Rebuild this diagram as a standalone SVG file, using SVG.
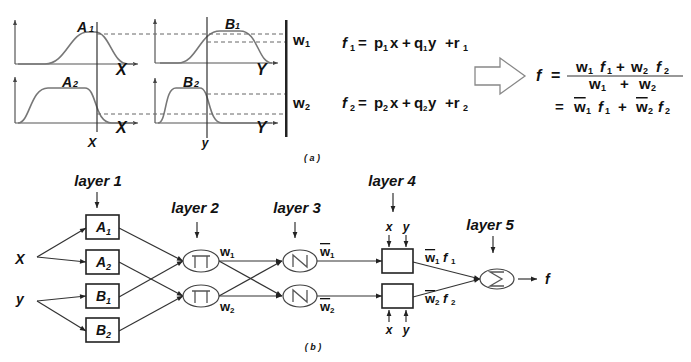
<svg xmlns="http://www.w3.org/2000/svg" width="691" height="362" viewBox="0 0 691 362">
<defs>
<style>
.ln{stroke:#333;stroke-width:1.2;fill:none}
.ax{stroke:#555;stroke-width:1.2;fill:none}
.cv{stroke:#777;stroke-width:1.6;fill:none}
.ds{stroke:#666;stroke-width:1;stroke-dasharray:4 3;fill:none}
.t{font-family:"Liberation Sans",Arial,sans-serif;font-weight:bold;font-style:italic;fill:#111}
.n{font-family:"Liberation Sans",Arial,sans-serif;font-weight:bold;fill:#111}
.box{fill:#fff;stroke:#222;stroke-width:1.6}
.el{fill:#fff;stroke:#444;stroke-width:1.2}
.sym{stroke:#555;stroke-width:1.3;fill:none}
.ov{text-decoration:overline}
</style>
<marker id="ah" viewBox="0 0 10 10" refX="10" refY="5" markerWidth="7" markerHeight="6" orient="auto" markerUnits="userSpaceOnUse"><path d="M0,1 L10,5 L0,9 z" fill="#222"/></marker>
<marker id="sa" viewBox="0 0 10 10" refX="10" refY="5" markerWidth="5" markerHeight="5" orient="auto" markerUnits="userSpaceOnUse"><path d="M0,1 L10,5 L0,9 z" fill="#444"/></marker>
</defs>
<rect width="691" height="362" fill="#fff"/>

<!-- (a) membership function plots -->
<g id="plotA1">
<path class="ax" d="M15,64 V20" marker-end="url(#sa)"/>
<path class="ax" d="M15,64 H138" marker-end="url(#sa)"/>
<path class="cv" d="M18,64 L45,64 C66,64 70,32 88,32 L95,32 C110,32 112,64 128,64 L134,64"/>
<text class="t" x="77" y="32" font-size="14">A<tspan font-size="9" x="89" y="32">1</tspan></text>
<text class="t" x="116" y="75" font-size="16">X</text>
</g>
<g id="plotA2">
<path class="ax" d="M15,123 V77" marker-end="url(#sa)"/>
<path class="ax" d="M15,123 H138" marker-end="url(#sa)"/>
<path class="cv" d="M18,123 C30,123 30,88 48,88 L85,88 C97,88 94,123 112,123 L134,123"/>
<text class="t" x="62" y="87" font-size="14">A<tspan font-size="9" x="73" y="87">2</tspan></text>
<text class="t" x="116" y="133" font-size="16">X</text>
</g>
<g id="plotB1">
<path class="ax" d="M155,63 V19" marker-end="url(#sa)"/>
<path class="ax" d="M155,63 H278" marker-end="url(#sa)"/>
<path class="cv" d="M160,63 L178,63 C197,63 200,31 220,31 L240,31 C258,31 258,63 272,63"/>
<text class="t" x="225" y="29" font-size="14">B<tspan font-size="9" x="235" y="29">1</tspan></text>
<text class="t" x="256" y="75" font-size="16">Y</text>
</g>
<g id="plotB2">
<path class="ax" d="M155,123 V78" marker-end="url(#sa)"/>
<path class="ax" d="M155,123 H278" marker-end="url(#sa)"/>
<path class="cv" d="M158,123 C167,123 164,88 176,88 L200,88 C210,88 208,123 222,123 L272,123"/>
<text class="t" x="183" y="87" font-size="14">B<tspan font-size="9" x="194" y="87">2</tspan></text>
<text class="t" x="256" y="133" font-size="16">Y</text>
</g>
<g id="guides">
<path class="ln" d="M97,22 V132 M207,17 V138" stroke="#444"/>
<path class="ds" d="M97,34 H286 M207,42 H286 M207,94 H286 M97,114 H286"/>
<rect x="285" y="20" width="2.5" height="117" fill="#222"/>
<text class="t" x="92" y="147" font-size="13" text-anchor="middle">X</text>
<text class="t" x="205" y="147" font-size="12" text-anchor="middle">y</text>
</g>
<g id="rules">
<text class="n" x="293" y="45" font-size="15">w<tspan font-size="9" x="305" y="47">1</tspan></text>
<text class="n" x="293" y="108" font-size="15">w<tspan font-size="9" x="305" y="110">2</tspan></text>
<text class="n" x="342" y="48" font-size="15"><tspan font-style="italic">f</tspan><tspan font-size="9" x="350" y="51">1</tspan><tspan x="358" y="48">=</tspan><tspan x="374" y="48">p</tspan><tspan font-size="9" x="383" y="51">1</tspan><tspan x="390" y="48">x</tspan><tspan x="402" y="48">+</tspan><tspan x="414" y="48">q</tspan><tspan font-size="8" x="423" y="51">1</tspan><tspan x="428" y="48">y</tspan><tspan x="445" y="48">+r</tspan><tspan font-size="9" x="463" y="51">1</tspan></text>
<text class="n" x="342" y="108" font-size="15"><tspan font-style="italic">f</tspan><tspan font-size="9" x="350" y="111">2</tspan><tspan x="358" y="108">=</tspan><tspan x="374" y="108">p</tspan><tspan font-size="9" x="383" y="111">2</tspan><tspan x="390" y="108">x</tspan><tspan x="402" y="108">+</tspan><tspan x="414" y="108">q</tspan><tspan font-size="8" x="423" y="111">2</tspan><tspan x="428" y="108">y</tspan><tspan x="445" y="108">+r</tspan><tspan font-size="9" x="463" y="111">2</tspan></text>
</g>
<g id="bigArrow">
<polygon points="475,67 500,67 500,58 525,76 500,94 500,85 475,85" fill="#fff" stroke="#888" stroke-width="1.3"/>
</g>
<g id="formula">
<text class="n" x="536" y="81" font-size="16"><tspan font-style="italic">f</tspan><tspan x="551" y="81">=</tspan></text>
<path d="M567,76 H683" stroke="#333" stroke-width="1.2"/>
<text class="n" x="576" y="72" font-size="15">w<tspan font-size="9" x="588" y="74">1</tspan><tspan font-style="italic" x="600" y="72">f</tspan><tspan font-size="9" x="607" y="74">1</tspan><tspan x="616" y="72">+</tspan><tspan x="631" y="72">w</tspan><tspan font-size="9" x="643" y="74">2</tspan><tspan font-style="italic" x="656" y="72">f</tspan><tspan font-size="9" x="664" y="74">2</tspan></text>
<text class="n" x="589" y="89" font-size="15">w<tspan font-size="9" x="601" y="91">1</tspan><tspan x="620" y="89">+</tspan><tspan x="639" y="89">w</tspan><tspan font-size="9" x="651" y="91">2</tspan></text>
<text class="n" x="555" y="112" font-size="15">=<tspan class="ov" x="574" y="112">w</tspan><tspan font-size="9" x="586" y="114">1</tspan><tspan font-style="italic" x="598" y="112">f</tspan><tspan font-size="9" x="605" y="114">1</tspan><tspan x="618" y="112">+</tspan><tspan class="ov" x="636" y="112">w</tspan><tspan font-size="9" x="648" y="114">2</tspan><tspan font-style="italic" x="658" y="112">f</tspan><tspan font-size="9" x="665" y="114">2</tspan></text>
</g>
<text class="t" x="312" y="161" font-size="9" font-weight="normal" text-anchor="middle">( a )</text>

<!-- (b) ANFIS network -->
<g id="connectors">
<path class="ln" d="M37,257 L86,228" marker-end="url(#ah)"/>
<path class="ln" d="M37,257 L86,262" marker-end="url(#ah)"/>
<path class="ln" d="M37,301 L86,296" marker-end="url(#ah)"/>
<path class="ln" d="M37,301 L86,331" marker-end="url(#ah)"/>
<path class="ln" d="M119,228 L183,261" marker-end="url(#ah)"/>
<path class="ln" d="M119,297 L183,261" marker-end="url(#ah)"/>
<path class="ln" d="M119,262 L183,296" marker-end="url(#ah)"/>
<path class="ln" d="M119,331 L183,296" marker-end="url(#ah)"/>
<path class="ln" d="M219,261 L282,261" marker-end="url(#ah)"/>
<path class="ln" d="M219,261 L282,296" marker-end="url(#ah)"/>
<path class="ln" d="M219,296 L282,261" marker-end="url(#ah)"/>
<path class="ln" d="M219,296 L282,296" marker-end="url(#ah)"/>
<path class="ln" d="M317,261 L382,261" marker-end="url(#ah)"/>
<path class="ln" d="M317,296 L382,296" marker-end="url(#ah)"/>
<path class="ln" d="M413,262 L480,279" marker-end="url(#ah)"/>
<path class="ln" d="M413,297 L480,279" marker-end="url(#ah)"/>
<path class="ln" d="M518,279 L537,279" marker-end="url(#ah)"/>
<path class="ln" d="M97,192 V208" marker-end="url(#ah)"/>
<path class="ln" d="M197,222 V238" marker-end="url(#ah)"/>
<path class="ln" d="M295,222 V238" marker-end="url(#ah)"/>
<path class="ln" d="M393,193 V212" marker-end="url(#ah)"/>
<path class="ln" d="M493,236 V253" marker-end="url(#ah)"/>
<path class="ln" d="M389,235 V247" marker-end="url(#ah)"/>
<path class="ln" d="M406,235 V247" marker-end="url(#ah)"/>
<path class="ln" d="M389,322 V310" marker-end="url(#ah)"/>
<path class="ln" d="M406,322 V310" marker-end="url(#ah)"/>
</g>
<g id="inputs">
<text class="t" x="20" y="264" font-size="14" text-anchor="middle">X</text>
<text class="t" x="20" y="304" font-size="14" text-anchor="middle">y</text>
</g>
<g id="layer1">
<text class="t" x="98" y="186" font-size="15" text-anchor="middle">layer 1</text>
<rect class="box" x="86" y="215" width="33" height="24"/>
<text class="t" x="96" y="232" font-size="14">A<tspan font-size="9" x="106" y="235">1</tspan></text>
<rect class="box" x="86" y="250" width="33" height="24"/>
<text class="t" x="96" y="267" font-size="14">A<tspan font-size="9" x="106" y="270">2</tspan></text>
<rect class="box" x="86" y="284" width="33" height="24"/>
<text class="t" x="96" y="301" font-size="14">B<tspan font-size="9" x="106" y="304">1</tspan></text>
<rect class="box" x="86" y="318" width="33" height="24"/>
<text class="t" x="96" y="335" font-size="14">B<tspan font-size="9" x="106" y="338">2</tspan></text>
</g>
<g id="layer2">
<text class="t" x="195" y="213" font-size="15" text-anchor="middle">layer 2</text>
<ellipse class="el" cx="201" cy="261" rx="18" ry="11"/>
<path class="sym" d="M192,256 H210 M195,256 V268 M207,256 V268"/>
<ellipse class="el" cx="201" cy="296" rx="18" ry="11"/>
<path class="sym" d="M192,291 H210 M195,291 V303 M207,291 V303"/>
<text class="n" x="220" y="256" font-size="13">w<tspan font-size="8" x="230" y="258">1</tspan></text>
<text class="n" x="220" y="311" font-size="13">w<tspan font-size="8" x="230" y="313">2</tspan></text>
</g>
<g id="layer3">
<text class="t" x="297" y="213" font-size="15" text-anchor="middle">layer 3</text>
<ellipse class="el" cx="300" cy="261" rx="17" ry="11"/>
<path class="sym" d="M293,267 V255 L307,267 V255"/>
<ellipse class="el" cx="300" cy="296" rx="17" ry="11"/>
<path class="sym" d="M293,302 V290 L307,302 V290"/>
<text class="n" x="320" y="256" font-size="13"><tspan class="ov">w</tspan><tspan font-size="8" x="330" y="258">1</tspan></text>
<text class="n" x="320" y="311" font-size="13"><tspan class="ov">w</tspan><tspan font-size="8" x="330" y="313">2</tspan></text>
</g>
<g id="layer4">
<text class="t" x="392" y="186" font-size="15" text-anchor="middle">layer 4</text>
<text class="t" x="389" y="231" font-size="12" text-anchor="middle">x</text>
<text class="t" x="406" y="231" font-size="12" text-anchor="middle">y</text>
<rect class="box" x="382" y="249" width="31" height="24"/>
<rect class="box" x="382" y="284" width="31" height="24"/>
<text class="t" x="389" y="334" font-size="12" text-anchor="middle">x</text>
<text class="t" x="406" y="334" font-size="12" text-anchor="middle">y</text>
<text class="n" x="425" y="262" font-size="13"><tspan class="ov">w</tspan><tspan font-size="8" x="435" y="264">1</tspan><tspan font-style="italic" x="443" y="262">f</tspan><tspan font-size="8" x="451" y="264">1</tspan></text>
<text class="n" x="425" y="303" font-size="13"><tspan class="ov">w</tspan><tspan font-size="8" x="435" y="305">2</tspan><tspan font-style="italic" x="443" y="303">f</tspan><tspan font-size="8" x="451" y="305">2</tspan></text>
</g>
<g id="layer5">
<text class="t" x="490" y="230" font-size="15" text-anchor="middle">layer 5</text>
<ellipse class="el" cx="497" cy="279" rx="17" ry="10"/>
<path class="sym" d="M504,272 H490 L502,279 L490,286 H504"/>
</g>
<g id="output">
<text class="t" x="545" y="284" font-size="14">f</text>
</g>
<text class="t" x="313" y="350" font-size="9" font-weight="normal" text-anchor="middle">( b )</text>
</svg>
